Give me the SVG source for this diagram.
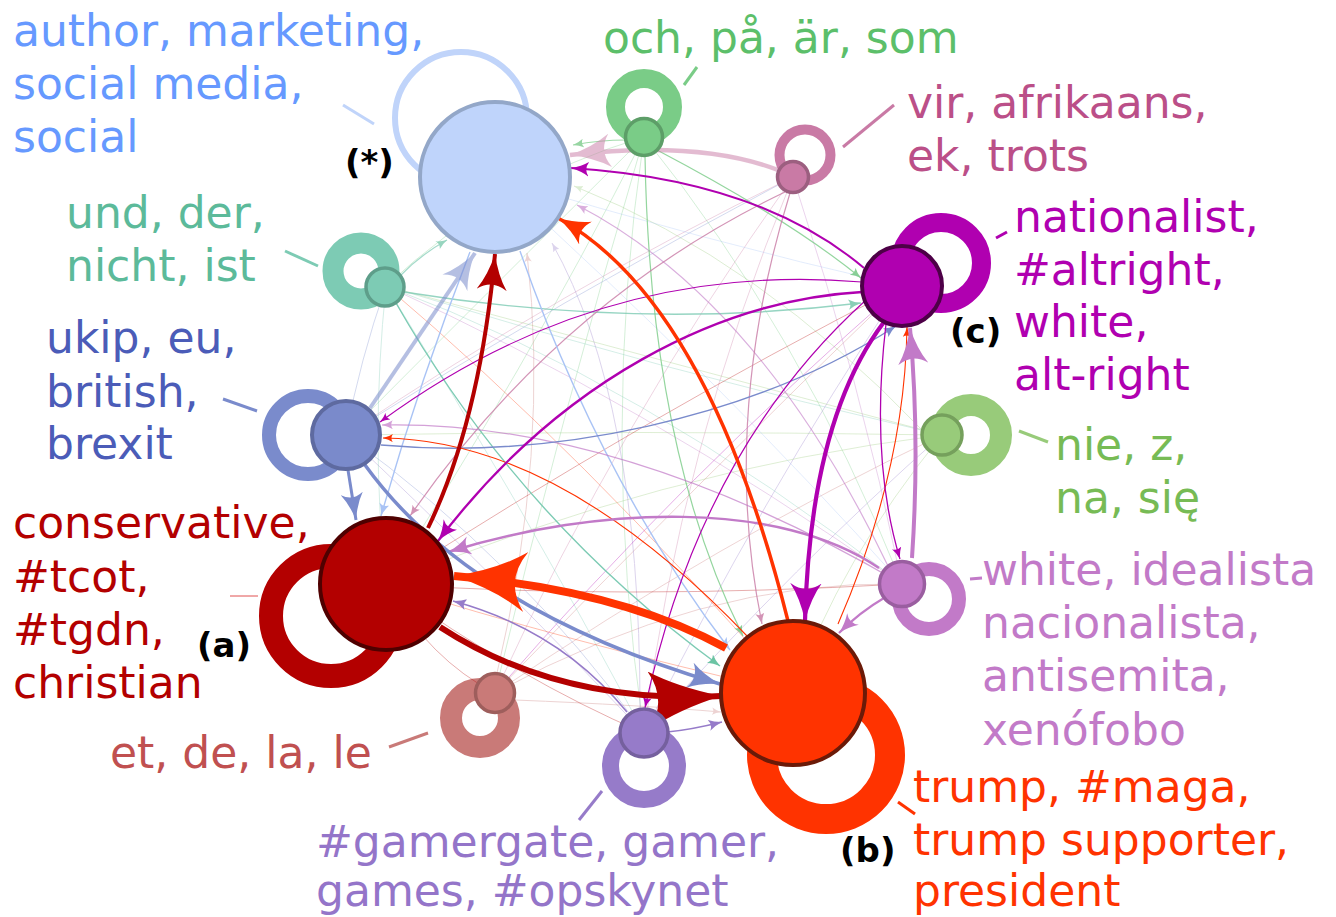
<svg xmlns="http://www.w3.org/2000/svg" width="1336" height="917" viewBox="0 0 1336 917">
<style>
text{font-family:"DejaVu Sans","Liberation Sans",sans-serif;font-size:44px}
.tag{font-weight:bold;font-size:34px;fill:#000}
.e{fill:none}
.f{fill:none;stroke-width:1;opacity:0.32}
.ring{fill:none}
.ld{stroke-width:3;fill:none}
</style>
<defs>
<marker id="m-dr" viewBox="0 0 10 10" refX="10" refY="5" markerWidth="9" markerHeight="7.5" orient="auto" markerUnits="strokeWidth" preserveAspectRatio="none"><path d="M10,5 Q4,3.3 0,0 Q3,5 0,10 Q4,6.7 10,5Z" fill="#b30000"/></marker>
<marker id="m-drl" viewBox="0 0 10 10" refX="10" refY="5" markerWidth="12" markerHeight="9.5" orient="auto" markerUnits="strokeWidth" preserveAspectRatio="none"><path d="M10,5 Q4,3 0,0 Q2.5,5 0,10 Q4,7 10,5Z" fill="#b30000"/></marker>
<marker id="m-or" viewBox="0 0 10 10" refX="10" refY="5" markerWidth="9" markerHeight="7.5" orient="auto" markerUnits="strokeWidth" preserveAspectRatio="none"><path d="M10,5 Q4,3.3 0,0 Q3,5 0,10 Q4,6.7 10,5Z" fill="#ff3300"/></marker>
<marker id="m-bl" viewBox="0 0 10 10" refX="10" refY="5" markerWidth="9" markerHeight="7.5" orient="auto" markerUnits="strokeWidth" preserveAspectRatio="none"><path d="M10,5 Q4,3.3 0,0 Q3,5 0,10 Q4,6.7 10,5Z" fill="#7a8bcc"/></marker>
<marker id="m-mg" viewBox="0 0 10 10" refX="10" refY="5" markerWidth="9" markerHeight="7.5" orient="auto" markerUnits="strokeWidth" preserveAspectRatio="none"><path d="M10,5 Q4,3.3 0,0 Q3,5 0,10 Q4,6.7 10,5Z" fill="#b000b0"/></marker>
<marker id="m-lp" viewBox="0 0 10 10" refX="10" refY="5" markerWidth="9" markerHeight="7.5" orient="auto" markerUnits="strokeWidth" preserveAspectRatio="none"><path d="M10,5 Q4,3.3 0,0 Q3,5 0,10 Q4,6.7 10,5Z" fill="#c27ac8"/></marker>
<marker id="m-pk" viewBox="0 0 10 10" refX="10" refY="5" markerWidth="9" markerHeight="7.5" orient="auto" markerUnits="strokeWidth" preserveAspectRatio="none"><path d="M10,5 Q4,3.3 0,0 Q3,5 0,10 Q4,6.7 10,5Z" fill="#c97aa5"/></marker>
<marker id="m-tl" viewBox="0 0 10 10" refX="10" refY="5" markerWidth="9" markerHeight="7.5" orient="auto" markerUnits="strokeWidth" preserveAspectRatio="none"><path d="M10,5 Q4,3.3 0,0 Q3,5 0,10 Q4,6.7 10,5Z" fill="#6cc4a4"/></marker>
<marker id="m-gr" viewBox="0 0 10 10" refX="10" refY="5" markerWidth="9" markerHeight="7.5" orient="auto" markerUnits="strokeWidth" preserveAspectRatio="none"><path d="M10,5 Q4,3.3 0,0 Q3,5 0,10 Q4,6.7 10,5Z" fill="#6cc47c"/></marker>
<marker id="m-sa" viewBox="0 0 10 10" refX="10" refY="5" markerWidth="9" markerHeight="7.5" orient="auto" markerUnits="strokeWidth" preserveAspectRatio="none"><path d="M10,5 Q4,3.3 0,0 Q3,5 0,10 Q4,6.7 10,5Z" fill="#c97a78"/></marker>
<marker id="m-gm" viewBox="0 0 10 10" refX="10" refY="5" markerWidth="9" markerHeight="7.5" orient="auto" markerUnits="strokeWidth" preserveAspectRatio="none"><path d="M10,5 Q4,3.3 0,0 Q3,5 0,10 Q4,6.7 10,5Z" fill="#967bc9"/></marker>
<marker id="m-lb" viewBox="0 0 10 10" refX="10" refY="5" markerWidth="9" markerHeight="7.5" orient="auto" markerUnits="strokeWidth" preserveAspectRatio="none"><path d="M10,5 Q4,3.3 0,0 Q3,5 0,10 Q4,6.7 10,5Z" fill="#a9c3f5"/></marker>
<marker id="m-lg" viewBox="0 0 10 10" refX="10" refY="5" markerWidth="9" markerHeight="7.5" orient="auto" markerUnits="strokeWidth" preserveAspectRatio="none"><path d="M10,5 Q4,3.3 0,0 Q3,5 0,10 Q4,6.7 10,5Z" fill="#98cb7a"/></marker>
</defs>
<rect width="1336" height="917" fill="#ffffff"/>
<g id="connectors">
<g id="self-loops">
<circle class="ring" cx="461" cy="118" r="66" stroke="#c0d4fa" stroke-width="6"/>
<circle class="ring" cx="644" cy="107" r="28.5" stroke="#7acc87" stroke-width="19"/>
<circle class="ring" cx="805" cy="155" r="25.5" stroke="#c97aa5" stroke-width="10"/>
<circle class="ring" cx="941" cy="263" r="40.5" stroke="#b000b0" stroke-width="19"/>
<circle class="ring" cx="971" cy="435" r="30" stroke="#98cb7a" stroke-width="22"/>
<circle class="ring" cx="929" cy="599" r="30" stroke="#c27ac8" stroke-width="14"/>
<circle class="ring" cx="826" cy="755" r="64" stroke="#ff3300" stroke-width="30"/>
<circle class="ring" cx="644" cy="766" r="33.5" stroke="#967bc9" stroke-width="17"/>
<circle class="ring" cx="480" cy="718" r="29" stroke="#c97a78" stroke-width="22"/>
<circle class="ring" cx="331" cy="616" r="60" stroke="#b30000" stroke-width="24"/>
<circle class="ring" cx="308" cy="435" r="39" stroke="#7a8bcc" stroke-width="14"/>
<circle class="ring" cx="361" cy="271" r="28" stroke="#7dcbb4" stroke-width="21"/>
</g>
<g id="faint-edges">
<path class="f" stroke="#7acc87" d="M644,137 Q520,380 386,584"/>
<path class="f" stroke="#7acc87" d="M644,137 Q480,300 346,435"/>
<path class="f" stroke="#7acc87" d="M644,137 Q600,435 644,733"/>
<path class="f" stroke="#7acc87" d="M644,137 Q800,330 902,584"/>
<path class="f" stroke="#7acc87" d="M644,137 Q560,420 495,693"/>
<path class="f" stroke="#7acc87" d="M644,137 Q500,180 386,286"/>
<path class="f" stroke="#c97aa5" d="M793,177 Q560,290 346,435"/>
<path class="f" stroke="#c97aa5" d="M793,177 Q620,420 495,693"/>
<path class="f" stroke="#c97aa5" d="M793,177 Q680,450 644,733"/>
<path class="f" stroke="#7dcbb4" d="M386,286 Q640,380 902,584"/>
<path class="f" stroke="#7dcbb4" d="M386,286 Q660,370 942,435"/>
<path class="f" stroke="#7dcbb4" d="M386,286 Q520,500 644,733"/>
<path class="f" stroke="#7dcbb4" d="M386,286 Q370,440 386,584" marker-end="url(#m-tl)"/>
<path class="f" stroke="#c97a78" d="M495,693 Q700,480 902,286"/>
<path class="f" stroke="#c97a78" d="M495,693 Q700,580 902,584"/>
<path class="f" stroke="#c97a78" d="M495,693 Q720,540 942,435"/>
<path class="f" stroke="#c97a78" d="M497,673 Q550,450 527,253" marker-end="url(#m-sa)"/>
<path class="f" stroke="#c97a78" d="M515,700 Q640,705 721,712" marker-end="url(#m-sa)"/>
<path class="f" stroke="#967bc9" d="M644,733 Q480,560 346,435"/>
<path class="f" stroke="#967bc9" d="M644,733 Q760,500 902,286"/>
<path class="f" stroke="#967bc9" d="M644,733 Q800,560 942,435"/>
<path class="f" stroke="#967bc9" d="M640,708 Q640,400 552,243" marker-end="url(#m-gm)"/>
<path class="f" stroke="#98cb7a" d="M942,435 Q660,470 386,584"/>
<path class="f" stroke="#98cb7a" d="M942,435 Q640,430 346,435"/>
<path class="f" stroke="#98cb7a" d="M942,435 Q660,360 386,286"/>
<path class="f" stroke="#98cb7a" d="M942,435 Q840,560 793,693"/>
<path class="f" stroke="#98cb7a" d="M922,430 Q760,260 574,186" marker-end="url(#m-lg)"/>
<path class="f" stroke="#c27ac8" d="M902,584 Q640,400 386,286"/>
<path class="f" stroke="#c27ac8" d="M902,584 Q860,380 793,177"/>
<path class="f" stroke="#a9c3f5" d="M495,177 Q700,240 902,286"/>
<path class="f" stroke="#a9c3f5" d="M495,177 Q720,380 902,584"/>
<path class="f" stroke="#b30000" d="M386,584 Q640,420 902,286"/>
<path class="f" stroke="#b30000" d="M386,584 Q520,680 644,733"/>
<path class="f" stroke="#b30000" d="M386,584 Q430,660 495,693"/>
<path class="f" stroke="#b30000" d="M386,584 Q620,600 902,584"/>
<path class="f" stroke="#ff3300" d="M793,693 Q580,450 386,286"/>
<path class="f" stroke="#ff3300" d="M793,693 Q560,640 386,584"/>
<path class="f" stroke="#b000b0" d="M902,286 Q680,480 495,693"/>
<path class="f" stroke="#7a8bcc" d="M346,435 Q360,360 386,286"/>
<path class="f" stroke="#7a8bcc" d="M346,435 Q560,300 793,177"/>
<path class="f" stroke="#7a8bcc" d="M346,435 Q520,560 644,733"/>
</g>
<g id="edges">
<path class="e" stroke="#7dcbb4" stroke-width="1.4" opacity="0.8" d="M404,292 Q640,330 861,303" marker-end="url(#m-tl)"/>
<path class="e" stroke="#7acc87" stroke-width="1.2" opacity="0.8" d="M657,150 Q790,220 861,278" marker-end="url(#m-gr)"/>
<path class="e" stroke="#7dcbb4" stroke-width="1.2" opacity="0.7" d="M400,276 Q420,255 447,240" marker-end="url(#m-tl)"/>
<path class="e" stroke="#7acc87" stroke-width="1.2" opacity="0.7" d="M626,140 Q600,140 573,145" marker-end="url(#m-gr)"/>
<path class="e" stroke="#c27ac8" stroke-width="1.2" opacity="0.6" d="M888,566 Q760,300 577,205" marker-end="url(#m-lp)"/>
<path class="e" stroke="#7dcbb4" stroke-width="1.4" d="M396,303 Q520,520 720,666" marker-end="url(#m-tl)"/>
<path class="e" stroke="#7acc87" stroke-width="1.2" opacity="0.8" d="M645,156 Q650,450 743,636" marker-end="url(#m-gr)"/>
<path class="e" stroke="#c97aa5" stroke-width="1.2" opacity="0.8" d="M790,193 Q720,420 762,624" marker-end="url(#m-pk)"/>
<path class="e" stroke="#c97aa5" stroke-width="1.2" opacity="0.8" d="M785,192 Q560,300 410,516" marker-end="url(#m-pk)"/>
<path class="e" stroke="#a9c3f5" stroke-width="1.4" d="M470,252 Q420,380 381,516" marker-end="url(#m-lb)"/>
<path class="e" stroke="#a9c3f5" stroke-width="1.4" d="M520,251 Q600,480 730,650" marker-end="url(#m-lb)"/>
<path class="e" stroke="#c27ac8" stroke-width="1.2" opacity="0.7" d="M902,584 Q620,420 382,425" marker-end="url(#m-lp)"/>
<path class="e" stroke="#7a8bcc" stroke-width="1.4" d="M381,445 C550,460 750,420 896,326" marker-end="url(#m-bl)"/>
<path class="e" stroke="#ff3300" stroke-width="1.1" d="M748,637 Q560,440 383,438" marker-end="url(#m-or)"/>
<path class="e" stroke="#ff3300" stroke-width="1.1" d="M838,624 Q905,470 907,327" marker-end="url(#m-or)"/>
<path class="e" stroke="#b000b0" stroke-width="1.1" d="M862,282 Q600,260 380,422" marker-end="url(#m-mg)"/>
<path class="e" stroke="#b000b0" stroke-width="1.2" d="M866,300 Q700,450 645,708" marker-end="url(#m-mg)"/>
<path class="e" stroke="#b000b0" stroke-width="1.3" d="M886,324 Q870,460 900,559" marker-end="url(#m-mg)"/>
<path class="e" stroke="#967bc9" stroke-width="1.5" d="M627,712 Q560,630 453,601" marker-end="url(#m-gm)"/>
<path class="e" stroke="#967bc9" stroke-width="1.5" d="M667,732 Q690,730 722,722" marker-end="url(#m-gm)"/>
<path class="e" stroke="#c27ac8" stroke-width="2.2" d="M884,598 Q860,612 839,633" marker-end="url(#m-lp)"/>
<path class="e" stroke="#c27ac8" stroke-width="2.5" d="M879,568 C780,500 600,505 448,552" marker-end="url(#m-lp)"/>
<path class="e" stroke="#c97aa5" stroke-width="4.5" opacity="0.5" d="M778,170 Q700,140 570,155" marker-end="url(#m-pk)"/>
<path class="e" stroke="#7a8bcc" stroke-width="4" opacity="0.55" d="M370,408 Q430,320 475,253" marker-end="url(#m-bl)"/>
<path class="e" stroke="#b000b0" stroke-width="2" d="M864,268 Q760,180 571,168" marker-end="url(#m-mg)"/>
<path class="e" stroke="#b000b0" stroke-width="2.3" d="M862,292 C720,300 560,380 438,541" marker-end="url(#m-mg)"/>
<path class="e" stroke="#c27ac8" stroke-width="4" d="M912,558 Q920,440 910,328" marker-end="url(#m-lp)"/>
<path class="e" stroke="#b000b0" stroke-width="4.2" d="M884,322 Q810,420 805,621" marker-end="url(#m-mg)"/>
<path class="e" stroke="#7a8bcc" stroke-width="3" d="M348,470 Q352,495 356,520" marker-end="url(#m-bl)"/>
<path class="e" stroke="#7a8bcc" stroke-width="3.5" d="M365,465 Q470,610 720,684" marker-end="url(#m-bl)"/>
<path class="e" stroke="#ff3300" stroke-width="3.5" d="M788,621 Q707,300 558,218" marker-end="url(#m-or)"/>
<path class="e" stroke="#b30000" stroke-width="4" d="M428,528 Q480,420 495,254" marker-end="url(#m-dr)"/>
<path class="e" stroke="#b30000" stroke-width="6" d="M440,627 Q560,705 721,696" marker-end="url(#m-drl)"/>
<path class="e" stroke="#ff3300" stroke-width="8" d="M726,648 Q620,590 454,576" marker-end="url(#m-or)"/>
</g>
</g>
<g id="leaders">
<line class="ld" x1="343" y1="105" x2="374" y2="124" stroke="#c0d4fa"/>
<line class="ld" x1="684" y1="85" x2="697" y2="67" stroke="#7acc87"/>
<line class="ld" x1="843" y1="147" x2="894" y2="105" stroke="#c97aa5"/>
<line class="ld" x1="996" y1="238" x2="1007" y2="232" stroke="#b000b0"/>
<line class="ld" x1="285" y1="251" x2="318" y2="266" stroke="#7dcbb4"/>
<line class="ld" x1="223" y1="399" x2="257" y2="411" stroke="#7a8bcc"/>
<line x1="230" y1="596" x2="258" y2="596" stroke="#e05050" stroke-width="1"/>
<line class="ld" x1="1019" y1="431" x2="1048" y2="442" stroke="#98cb7a"/>
<line class="ld" x1="970" y1="579" x2="982" y2="578" stroke="#c27ac8"/>
<line class="ld" x1="898" y1="802" x2="915" y2="814" stroke="#ff3300"/>
<line class="ld" x1="389" y1="747" x2="428" y2="733" stroke="#c97a78"/>
<line class="ld" x1="579" y1="820" x2="602" y2="791" stroke="#967bc9"/>
</g>
<g id="node-star">
<circle cx="495" cy="177" r="75" fill="#bfd4fb" stroke="#93a7c8" stroke-width="4"/>
<text fill="#6699ff"><tspan x="13" y="46">author, marketing,</tspan><tspan x="13" y="99">social media,</tspan><tspan x="13" y="152">social</tspan></text>
<text class="tag" x="345" y="174">(*)</text>
</g>
<g id="node-och">
<circle cx="644" cy="137" r="18.5" fill="#7acc87" stroke="#5d9e68" stroke-width="3.5"/>
<text fill="#5cbf6a" x="603" y="53">och, på, är, som</text>
</g>
<g id="node-vir">
<circle cx="793" cy="177" r="15.5" fill="#c97aa5" stroke="#9c5f80" stroke-width="3.5"/>
<text fill="#bb4f88"><tspan x="907" y="118">vir, afrikaans,</tspan><tspan x="907" y="171">ek, trots</tspan></text>
</g>
<g id="node-c">
<circle cx="902" cy="286" r="40" fill="#b000b0" stroke="#4d0047" stroke-width="4"/>
<text fill="#b000b0"><tspan x="1014" y="232">nationalist,</tspan><tspan x="1014" y="285">#altright,</tspan><tspan x="1014" y="337">white,</tspan><tspan x="1014" y="390">alt-right</tspan></text>
<text class="tag" x="950" y="343">(c)</text>
</g>
<g id="node-nie">
<circle cx="942" cy="435" r="20" fill="#98cb7a" stroke="#75a05c" stroke-width="3.5"/>
<text fill="#77bb55"><tspan x="1055" y="460">nie, z,</tspan><tspan x="1055" y="513">na, się</tspan></text>
</g>
<g id="node-idealista">
<circle cx="902" cy="584" r="22.5" fill="#c27ac8" stroke="#9a5ea0" stroke-width="3.5"/>
<text fill="#c27ac8"><tspan x="982" y="585">white, idealista</tspan><tspan x="982" y="638">nacionalista,</tspan><tspan x="982" y="691">antisemita,</tspan><tspan x="982" y="745">xenófobo</tspan></text>
</g>
<g id="node-b">
<circle cx="793" cy="693" r="72" fill="#ff3300" stroke="#6b1a08" stroke-width="4"/>
<text fill="#ff3300"><tspan x="913" y="802">trump, #maga,</tspan><tspan x="913" y="855">trump supporter,</tspan><tspan x="913" y="906">president</tspan></text>
<text class="tag" x="840" y="862">(b)</text>
</g>
<g id="node-gamergate">
<circle cx="644" cy="733" r="24" fill="#967bc9" stroke="#75609e" stroke-width="3.5"/>
<text fill="#9475c9"><tspan x="316" y="857">#gamergate, gamer,</tspan><tspan x="316" y="906">games, #opskynet</tspan></text>
</g>
<g id="node-et">
<circle cx="495" cy="693" r="19.5" fill="#c97a78" stroke="#9e5e5c" stroke-width="3.5"/>
<text fill="#c05050" x="110" y="768">et, de, la, le</text>
</g>
<g id="node-a">
<circle cx="386" cy="584" r="66" fill="#b30000" stroke="#4f0000" stroke-width="4"/>
<text fill="#b30000"><tspan x="13" y="538">conservative,</tspan><tspan x="13" y="592">#tcot,</tspan><tspan x="13" y="645">#tgdn,</tspan><tspan x="13" y="698">christian</tspan></text>
<text class="tag" x="197" y="657">(a)</text>
</g>
<g id="node-ukip">
<circle cx="346" cy="435" r="34" fill="#7a8acb" stroke="#5e6aa0" stroke-width="4"/>
<text fill="#4b5cb8"><tspan x="46" y="353">ukip, eu,</tspan><tspan x="46" y="407">british,</tspan><tspan x="46" y="459">brexit</tspan></text>
</g>
<g id="node-und">
<circle cx="385" cy="287" r="19" fill="#7dcbb4" stroke="#5e9e8a" stroke-width="3.5"/>
<text fill="#5cba9a"><tspan x="66" y="228">und, der,</tspan><tspan x="66" y="281">nicht, ist</tspan></text>
</g>
</svg>
